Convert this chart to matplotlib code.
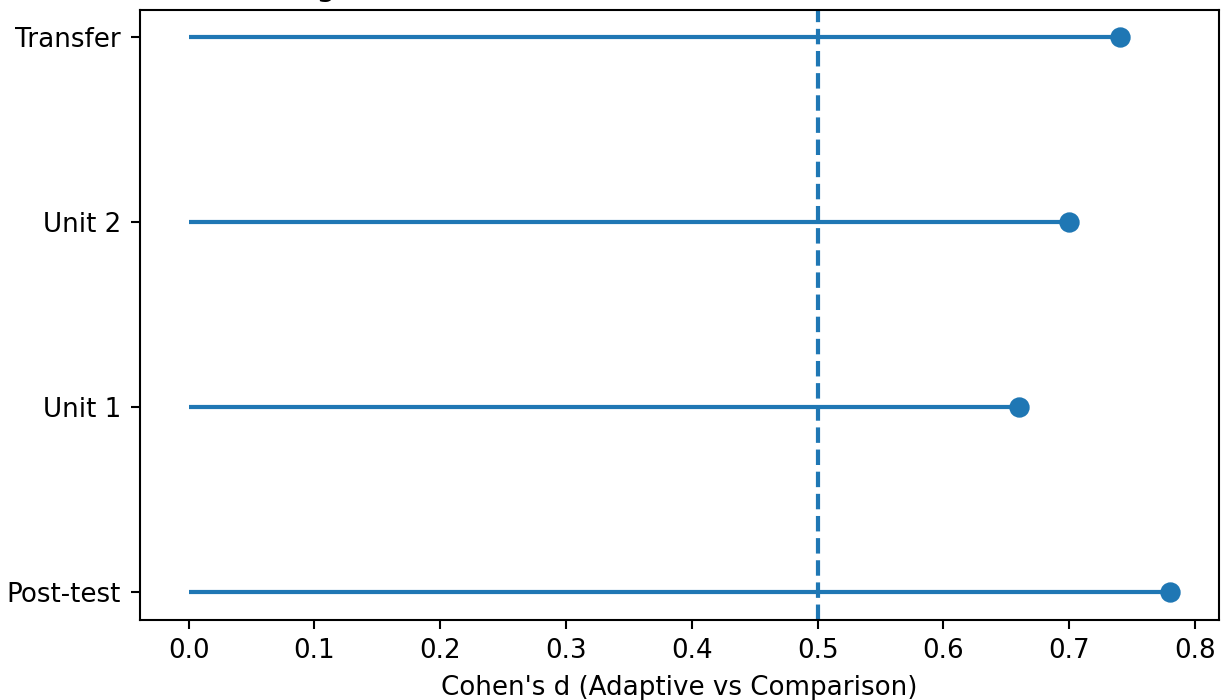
import matplotlib
matplotlib.use("Agg")
import matplotlib.pyplot as plt

outcomes = ["Post-test", "Unit 1", "Unit 2", "Transfer"]
cohens_d = [0.78, 0.66, 0.70, 0.74]
threshold = 0.5

S = 1.88
DPI = 100 * S
fig = plt.figure(figsize=(1225 / DPI, 700 / DPI), dpi=DPI)
ax = fig.add_axes([139.5/1225, 1-620/700, (1219-139.5)/1225, (620-9.5)/700])

ypos = list(range(len(outcomes)))
ax.hlines(ypos, 0, cohens_d, color="C0", linewidth=1.6)
ax.plot(cohens_d, ypos, "o", color="C0", markersize=6.8)
ax.axvline(threshold, color="C0", linestyle="--", linewidth=1.6)
ax.set_yticks(ypos)
ax.set_yticklabels(outcomes)
ax.set_xlabel("Cohen's d (Adaptive vs Comparison)")
ax.set_title("Effect Size Magnitude Across Outcomes", loc="left", x=-0.042, pad=5)

fig.savefig("out.png", dpi=DPI)
